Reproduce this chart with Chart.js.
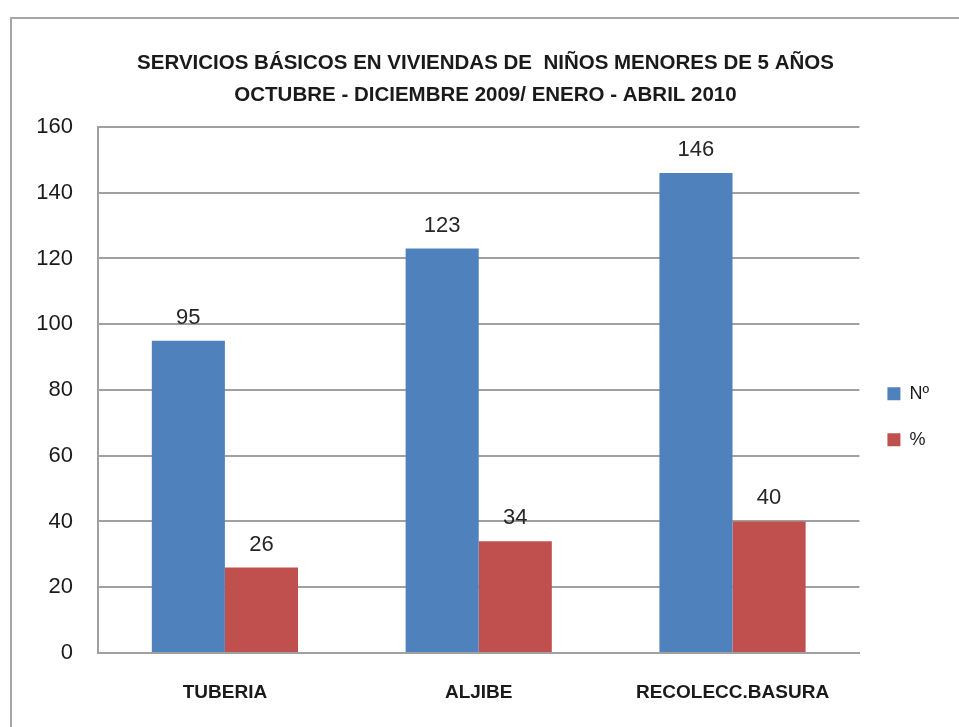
<!DOCTYPE html>
<html>
<head>
<meta charset="utf-8">
<script src="https://cdn.jsdelivr.net/npm/chart.js@4/dist/chart.umd.min.js"></script>
<style>
  html, body { margin: 0; padding: 0; background: #fff; }
  #frame {
    position: absolute; left: 10px; top: 17px;
    width: 1000px; height: 800px;
    border: 2px solid #a6a6a6;
  }
  #wrap { position: absolute; left: 0; top: 0; width: 959px; height: 727px; }
</style>
</head>
<body>
<div id="frame"></div>
<div id="wrap"><canvas id="chart" width="959" height="727"></canvas></div>
<script>
const categories = ['TUBERIA', 'ALJIBE', 'RECOLECC.BASURA'];
const seriesNames = ['Nº', '%'];
const numberValues = [95, 123, 146];
const percentValues = [26, 34, 40];
const titleLines = [
  'SERVICIOS BÁSICOS EN VIVIENDAS DE  NIÑOS MENORES DE 5 AÑOS',
  'OCTUBRE - DICIEMBRE 2009/ ENERO - ABRIL 2010'
];

const fontFamily = "'Liberation Sans', Arial, sans-serif";

// draw the value above each bar
const valueLabels = {
  id: 'valueLabels',
  afterDatasetsDraw(chart) {
    const ctx = chart.ctx;
    ctx.save();
    ctx.font = `22px ${fontFamily}`;
    ctx.fillStyle = '#262626';
    ctx.textAlign = 'center';
    ctx.textBaseline = 'alphabetic';
    chart.data.datasets.forEach((ds, i) => {
      chart.getDatasetMeta(i).data.forEach((bar, j) => {
        ctx.fillText(ds.data[j], bar.x, bar.y - 17);
      });
    });
    ctx.restore();
  }
};

const ctx = document.getElementById('chart').getContext('2d');

new Chart(ctx, {
  type: 'bar',
  data: {
    labels: categories,
    datasets: [
      {
        label: seriesNames[0],
        data: numberValues,
        backgroundColor: '#4F81BD',
        categoryPercentage: 0.576,
        barPercentage: 1
      },
      {
        label: seriesNames[1],
        data: percentValues,
        backgroundColor: '#C0504D',
        categoryPercentage: 0.576,
        barPercentage: 1
      }
    ]
  },
  options: {
    responsive: false,
    animation: false,
    layout: { padding: { left: 32, right: 20, top: 0, bottom: 0 } },
    plugins: {
      title: {
        display: true,
        text: titleLines,
        color: '#1a1a1a',
        font: { family: fontFamily, size: 20.5, weight: 'bold', lineHeight: 1.56 },
        padding: { top: 47, bottom: 16 }
      },
      legend: {
        position: 'right',
        // empty legend title just pushes the two items down
        title: { display: true, text: ' ', font: { size: 12 }, padding: { top: 92, bottom: 0 } },
        labels: {
          boxWidth: 13,
          boxHeight: 13,
          padding: 28,
          color: '#1a1a1a',
          font: { family: fontFamily, size: 18 }
        }
      },
      tooltip: { enabled: false }
    },
    scales: {
      x: {
        afterFit(scale) { scale.height = 74; },
        grid: { display: false },
        border: { display: true, color: '#a0a0a0', width: 2 },
        ticks: {
          color: '#1a1a1a',
          padding: 20,
          font: { family: fontFamily, size: 19, weight: 'bold' }
        }
      },
      y: {
        min: 0,
        max: 160,
        afterFit(scale) { scale.width = 66; },
        grid: { color: '#a0a0a0', lineWidth: 2, drawTicks: false },
        border: { display: true, color: '#a0a0a0', width: 2 },
        ticks: {
          stepSize: 20,
          color: '#1a1a1a',
          padding: 25,
          font: { family: fontFamily, size: 22 }
        }
      }
    }
  },
  plugins: [valueLabels]
});
</script>
</body>
</html>
